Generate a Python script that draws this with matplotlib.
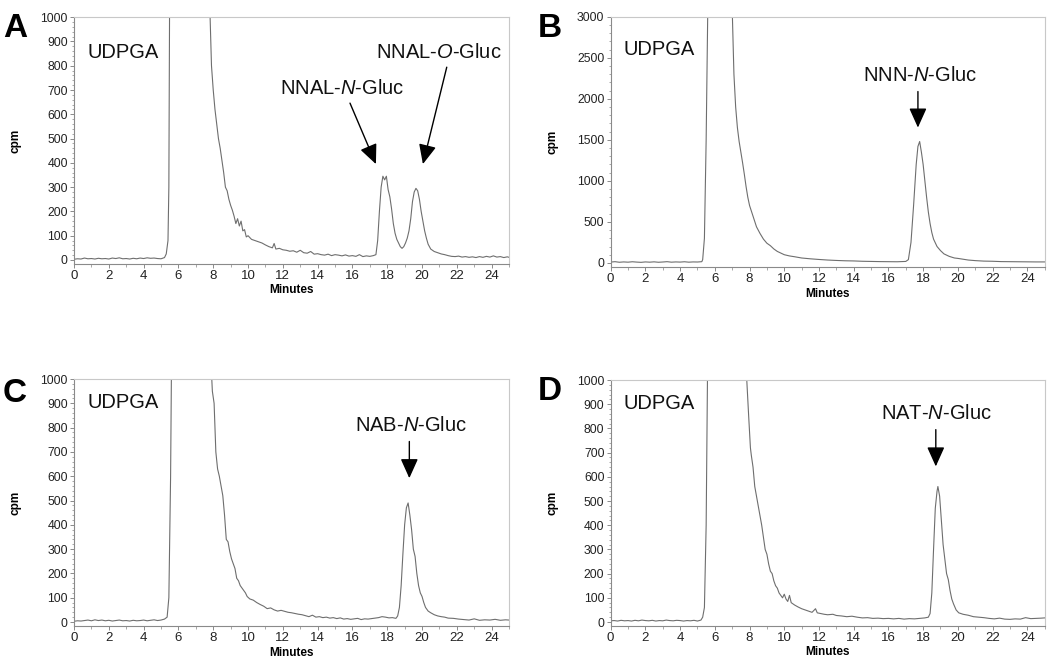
import matplotlib
matplotlib.use("Agg")
import matplotlib.pyplot as plt
from matplotlib.ticker import MultipleLocator

plt.rcParams["font.family"] = ["Liberation Sans", "DejaVu Sans"]
plt.rcParams["mathtext.fontset"] = "custom"
plt.rcParams["mathtext.rm"] = "Liberation Sans"
plt.rcParams["mathtext.it"] = "Liberation Sans:italic"

# --- data (minutes, cpm) ---
tA = [0, 0.2, 0.4, 0.6, 0.8, 1.0, 1.2, 1.4, 1.6, 1.8, 2.0, 2.2, 2.4, 2.6, 2.8, 3.0,
      3.2, 3.4, 3.6, 3.8, 4.0, 4.2, 4.4, 4.6, 4.8, 5.0, 5.2, 5.3, 5.4, 5.45, 5.5, 5.6,
      6.0, 7.0, 7.6, 7.8, 7.9, 8.0, 8.1, 8.2, 8.3, 8.4, 8.5, 8.6, 8.7, 8.8, 8.9, 9.0,
      9.1, 9.2, 9.3, 9.4, 9.5, 9.6, 9.7, 9.8, 9.9, 10.0, 10.2, 10.4, 10.6, 10.8, 11.0,
      11.2, 11.4, 11.5, 11.6, 11.8, 12.0, 12.2, 12.4, 12.6, 12.8, 13.0, 13.2, 13.4,
      13.6, 13.8, 14.0, 14.2, 14.4, 14.6, 14.8, 15.0, 15.2, 15.4, 15.6, 15.8, 16.0,
      16.2, 16.4, 16.6, 16.8, 17.0, 17.2, 17.35, 17.45, 17.55, 17.65, 17.75, 17.85,
      17.95, 18.05, 18.15, 18.25, 18.35, 18.45, 18.55, 18.65, 18.75, 18.85, 18.95,
      19.05, 19.15, 19.25, 19.35, 19.45, 19.55, 19.65, 19.75, 19.85, 19.95, 20.05,
      20.15, 20.25, 20.35, 20.5, 20.7, 20.9, 21.1, 21.3, 21.5, 21.7, 21.9, 22.1, 22.3,
      22.5, 22.7, 22.9, 23.1, 23.3, 23.5, 23.7, 23.9, 24.1, 24.3, 24.5, 24.7, 24.9, 25.0]
cpmA = [3, 5, 4, 8, 5, 6, 4, 7, 5, 6, 4, 8, 6, 9, 5, 6,
        4, 7, 5, 8, 6, 9, 7, 8, 6, 5, 10, 25, 80, 300, 1200, 3000,
        5000, 4000, 2000, 1050, 800, 700, 620, 560, 500, 460, 410, 360, 300, 285, 250, 225,
        205, 180, 150, 170, 140, 160, 120, 125, 95, 100, 85, 80, 75, 70, 62,
        55, 50, 68, 45, 48, 42, 40, 36, 38, 32, 40, 30, 28,
        35, 24, 26, 22, 20, 24, 18, 22, 20, 17, 21, 16, 18,
        15, 22, 14, 17, 15, 18, 22, 80, 200, 300, 345, 330,
        345, 290, 260, 210, 150, 110, 85, 70, 55, 48, 55,
        70, 90, 120, 170, 240, 280, 295, 285, 250, 200, 160,
        120, 90, 65, 45, 35, 30, 25, 22, 18, 15, 14, 16, 12,
        14, 11, 13, 10, 14, 11, 15, 12, 17, 12, 14, 10, 13, 11]

tB = [0, 0.25, 0.5, 0.75, 1.0, 1.25, 1.5, 1.75, 2.0, 2.25, 2.5, 2.75, 3.0, 3.25, 3.5,
      3.75, 4.0, 4.25, 4.5, 4.75, 5.0, 5.25, 5.3, 5.4, 5.5, 5.6, 6.0, 6.5, 7.0, 7.1,
      7.2, 7.3, 7.4, 7.5, 7.6, 7.7, 7.8, 7.9, 8.0, 8.2, 8.4, 8.6, 8.8, 9.0, 9.2, 9.4,
      9.6, 9.8, 10.0, 10.3, 10.6, 11.0, 11.5, 12.0, 12.5, 13.0, 13.5, 14.0, 14.5, 15.0,
      15.5, 16.0, 16.5, 17.0, 17.15, 17.3, 17.45, 17.6, 17.7, 17.8, 17.9, 18.0, 18.1,
      18.2, 18.3, 18.4, 18.5, 18.6, 18.8, 19.0, 19.2, 19.5, 19.8, 20.0, 20.3, 20.6,
      21.0, 21.5, 22.0, 22.5, 23.0, 23.5, 24.0, 24.5, 25.0]
cpmB = [10, 15, 8, 12, 9, 14, 10, 7, 12, 9, 13, 8, 11, 15, 9,
        12, 10, 14, 9, 12, 11, 15, 40, 300, 1500, 3200, 9000, 8000, 3100, 2300,
        1900, 1650, 1480, 1350, 1220, 1080, 930, 800, 700, 570, 440, 360, 290, 240, 210, 170,
        140, 120, 100, 85, 75, 60, 50, 42, 35, 30, 26, 24, 20, 18,
        16, 15, 14, 18, 40, 250, 700, 1200, 1420, 1480, 1350, 1200, 1000,
        800, 620, 480, 370, 290, 200, 150, 110, 80, 60, 55, 45, 35,
        28, 22, 20, 16, 15, 14, 13, 12, 12]

tC = [0, 0.2, 0.4, 0.6, 0.8, 1.0, 1.2, 1.4, 1.6, 1.8, 2.0, 2.2, 2.4, 2.6, 2.8, 3.0,
      3.2, 3.4, 3.6, 3.8, 4.0, 4.2, 4.4, 4.6, 4.8, 5.0, 5.2, 5.35, 5.45, 5.55, 5.65,
      6.0, 7.5, 7.85, 7.95, 8.05, 8.15, 8.25, 8.35, 8.45, 8.55, 8.65, 8.75, 8.85, 8.95,
      9.05, 9.15, 9.25, 9.35, 9.45, 9.55, 9.65, 9.75, 9.85, 9.95, 10.1, 10.3, 10.5,
      10.7, 10.9, 11.1, 11.3, 11.5, 11.7, 11.9, 12.1, 12.3, 12.5, 12.7, 12.9, 13.1,
      13.3, 13.5, 13.7, 13.9, 14.1, 14.3, 14.5, 14.7, 14.9, 15.1, 15.3, 15.5, 15.7,
      15.9, 16.1, 16.3, 16.5, 16.7, 16.9, 17.1, 17.3, 17.5, 17.7, 17.9, 18.1, 18.3,
      18.5, 18.6, 18.7, 18.8, 18.9, 19.0, 19.1, 19.2, 19.3, 19.4, 19.5, 19.6, 19.7,
      19.8, 19.9, 20.0, 20.1, 20.2, 20.35, 20.5, 20.7, 20.9, 21.1, 21.3, 21.5, 21.8,
      22.1, 22.4, 22.7, 23.0, 23.3, 23.6, 23.9, 24.2, 24.5, 24.8, 25.0]
cpmC = [3, 5, 4, 6, 8, 5, 9, 6, 8, 5, 7, 4, 6, 8, 5, 6,
        4, 7, 5, 6, 8, 5, 7, 9, 6, 8, 12, 20, 100, 600, 1500,
        5000, 2500, 1100, 950, 900, 700, 630, 600, 560, 520, 440, 340, 330, 290,
        260, 240, 220, 180, 170, 150, 140, 130, 120, 105, 95, 90, 80,
        72, 65, 55, 58, 50, 45, 48, 44, 40, 38, 35, 32, 30,
        26, 22, 28, 20, 22, 18, 20, 16, 18, 14, 17, 12, 14,
        11, 13, 15, 10, 13, 12, 14, 16, 18, 22, 20, 17, 18,
        15, 25, 60, 150, 280, 400, 470, 490, 440, 380, 300, 270, 200,
        150, 120, 105, 80, 60, 45, 38, 30, 25, 22, 20, 16, 15,
        12, 10, 8, 13, 7, 9, 8, 11, 7, 9, 8]

tD = [0, 0.2, 0.4, 0.6, 0.8, 1.0, 1.2, 1.4, 1.6, 1.8, 2.0, 2.2, 2.4, 2.6, 2.8, 3.0,
      3.2, 3.4, 3.6, 3.8, 4.0, 4.2, 4.4, 4.6, 4.8, 5.0, 5.2, 5.3, 5.4, 5.5, 5.6, 6.0,
      7.5, 7.84, 7.95, 8.05, 8.1, 8.2, 8.3, 8.4, 8.5, 8.6, 8.7, 8.8, 8.9, 9.0, 9.1,
      9.2, 9.3, 9.4, 9.5, 9.6, 9.7, 9.8, 9.9, 10.0, 10.1, 10.2, 10.3, 10.4, 10.6,
      10.8, 11.0, 11.2, 11.4, 11.6, 11.8, 11.9, 12.1, 12.3, 12.5, 12.8, 13.0, 13.3,
      13.6, 13.9, 14.2, 14.5, 14.8, 15.1, 15.4, 15.7, 16.0, 16.3, 16.6, 16.9, 17.2,
      17.5, 17.8, 18.1, 18.3, 18.4, 18.5, 18.6, 18.7, 18.8, 18.85, 18.95, 19.05,
      19.15, 19.25, 19.35, 19.45, 19.55, 19.65, 19.75, 19.9, 20.05, 20.3, 20.6, 20.9,
      21.2, 21.5, 21.8, 22.1, 22.4, 22.7, 23.0, 23.3, 23.6, 23.9, 24.2, 24.5, 24.8, 25.0]
cpmD = [5, 6, 4, 7, 5, 6, 4, 7, 5, 8, 6, 5, 7, 4, 6, 5,
        8, 6, 5, 7, 6, 4, 6, 5, 7, 4, 8, 20, 60, 400, 1200, 5000,
        2000, 1000, 850, 720, 690, 640, 560, 520, 480, 440, 400, 350, 300, 280, 240,
        210, 200, 170, 150, 140, 120, 110, 100, 115, 95, 85, 110, 80, 70,
        62, 55, 50, 45, 40, 55, 38, 35, 32, 30, 32, 27, 25,
        22, 24, 20, 17, 18, 15, 16, 14, 15, 13, 15, 12, 14,
        13, 15, 17, 20, 35, 120, 300, 470, 540, 560, 520, 420,
        320, 260, 200, 175, 130, 95, 75, 50, 38, 32, 28, 22,
        20, 18, 15, 13, 16, 12, 11, 13, 12, 18, 14, 15, 16, 17]


def style_axes(ax, ymax, ystep, yminor):
    ax.set_xlim(0, 25)
    ax.set_ylim(-ymax * 0.0165, ymax)
    ax.xaxis.set_major_locator(MultipleLocator(2))
    ax.xaxis.set_minor_locator(MultipleLocator(1))
    ax.yaxis.set_major_locator(MultipleLocator(ystep))
    ax.yaxis.set_minor_locator(MultipleLocator(yminor))
    for side in ("top", "right"):
        ax.spines[side].set_color("#c8c8c8")
        ax.spines[side].set_linewidth(0.8)
    for side in ("left", "bottom"):
        ax.spines[side].set_color("#8a8a8a")
        ax.spines[side].set_linewidth(0.8)
    ax.tick_params(which="major", length=3, width=0.7, color="#8a8a8a",
                   labelcolor="#222222", pad=1.5)
    ax.tick_params(which="minor", length=1.8, width=0.6, color="#9a9a9a")
    ax.tick_params(axis="y", labelsize=8.8)
    ax.tick_params(axis="x", labelsize=9.5)
    ax.set_xlabel("Minutes", fontsize=8.5, fontweight="bold")
    ax.set_ylabel("cpm", fontsize=8.5, fontweight="bold")
    ax.xaxis.set_label_coords(0.5, -0.083)
    ax.yaxis.set_label_coords(-0.12, 0.5)


def arrow(ax, tip, tail):
    ax.annotate("", xy=tip, xytext=tail,
                arrowprops=dict(arrowstyle="-|>,head_length=1.0,head_width=0.45",
                                mutation_scale=12, color="black", lw=1.0,
                                shrinkA=0, shrinkB=0))


def main():
    fig = plt.figure(figsize=(10.5, 6.6), dpi=100)
    axA = fig.add_axes([0.0705, 0.600, 0.4143, 0.374])
    axB = fig.add_axes([0.5816, 0.5955, 0.4133, 0.379])
    axC = fig.add_axes([0.0705, 0.0515, 0.4143, 0.3742])
    axD = fig.add_axes([0.5816, 0.0515, 0.4133, 0.3727])

    line_kw = dict(color="#6e6e6e", lw=0.8)
    axA.plot(tA, cpmA, **line_kw)
    axB.plot(tB, cpmB, **line_kw)
    axC.plot(tC, cpmC, **line_kw)
    axD.plot(tD, cpmD, **line_kw)

    style_axes(axA, 1000, 100, 20)
    style_axes(axB, 3000, 500, 100)
    style_axes(axC, 1000, 100, 20)
    style_axes(axD, 1000, 100, 20)

    lab = dict(fontsize=14.5, color="#111111", va="center")
    axA.text(0.8, 856, "UDPGA", ha="left", **lab)
    axB.text(0.76, 2597, "UDPGA", ha="left", **lab)
    axC.text(0.8, 903, "UDPGA", ha="left", **lab)
    axD.text(0.75, 903, "UDPGA", ha="left", **lab)

    axA.text(15.4, 708, "NNAL-$\\mathit{N}$-Gluc", ha="center", **lab)
    axA.text(20.96, 856, "NNAL-$\\mathit{O}$-Gluc", ha="center", **lab)
    arrow(axA, (17.35, 395), (15.86, 646))
    arrow(axA, (20.05, 395), (21.42, 794))

    axB.text(17.82, 2280, "NNN-$\\mathit{N}$-Gluc", ha="center", **lab)
    arrow(axB, (17.7, 1650), (17.7, 2089))

    axC.text(19.36, 808, "NAB-$\\mathit{N}$-Gluc", ha="center", **lab)
    arrow(axC, (19.27, 592), (19.27, 743))

    axD.text(18.77, 860, "NAT-$\\mathit{N}$-Gluc", ha="center", **lab)
    arrow(axD, (18.73, 643), (18.73, 795))

    letter = dict(fontsize=24, fontweight="bold", va="baseline", ha="left")
    fig.text(3 / 1050, 1 - 37 / 660, "A", **letter)
    fig.text(538 / 1050, 1 - 37 / 660, "B", **letter)
    fig.text(3 / 1050, 1 - 402 / 660, "C", **letter)
    fig.text(538 / 1050, 1 - 400 / 660, "D", **letter)

    fig.savefig("out.png", dpi=100)


if __name__ == "__main__":
    main()
